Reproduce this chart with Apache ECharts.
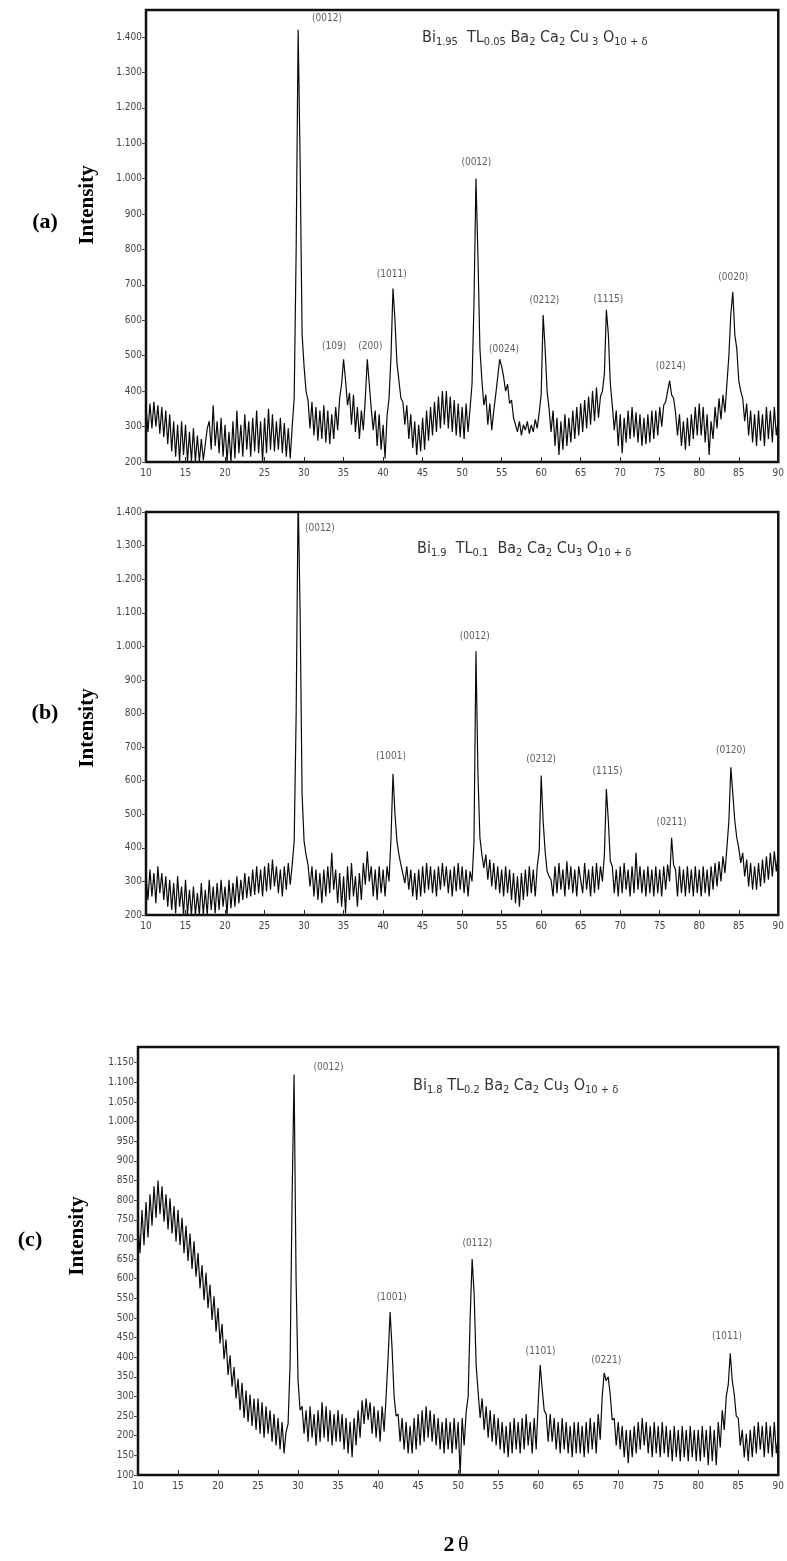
<!DOCTYPE html>
<html>
<head>
<meta charset="utf-8">
<script src="https://cdn.jsdelivr.net/npm/echarts@6/dist/echarts.min.js"></script>
<style>
  html, body { margin: 0; padding: 0; background: #fff; }
  #chart { width: 787px; height: 1561px; }
</style>
</head>
<body>
<div id="chart"></div>
<script>
// XRD scans: 2θ from 10° to 90° in 0.25° steps
const scanStart = 10;
const scanStep = 0.25;

// (a) Bi1.95 TL0.05 Ba2 Ca2 Cu3 O10+δ
const intensityA = [
  355,285,365,295,370,300,360,280,355,270,345,250,335,230,315,215,305,200,315,220,
  305,200,285,202,295,200,275,200,265,205,250,295,315,235,360,245,315,225,325,215,
  305,200,285,200,315,210,345,225,305,215,335,235,315,215,325,230,345,225,315,200,
  325,225,350,235,335,230,315,235,325,225,310,215,295,210,300,380,800,1420,1050,560,
  470,400,375,295,370,275,355,260,345,265,360,255,345,250,335,265,355,290,380,420,
  490,430,360,395,305,390,285,355,265,345,290,380,490,420,350,290,345,245,335,235,
  305,210,330,380,500,690,600,480,430,380,370,305,360,265,335,240,315,220,305,230,
  325,235,345,260,355,275,370,285,385,295,400,305,400,295,385,285,375,275,365,270,
  355,265,365,285,350,420,650,1000,780,520,430,360,390,305,365,290,345,390,440,490,
  470,440,400,420,365,375,325,325,285,315,275,305,290,315,280,305,285,320,295,340,
  390,615,520,400,350,285,345,245,325,220,315,235,335,245,325,255,345,265,355,275,
  365,285,375,295,385,305,400,315,410,325,385,400,450,630,560,420,360,290,345,245,
  335,225,325,255,345,265,355,270,340,255,335,245,325,250,335,255,345,265,345,275,
  355,300,360,370,400,430,390,380,340,275,335,245,315,235,325,245,335,265,355,275,
  365,275,355,255,335,220,315,265,355,295,380,320,390,340,420,500,620,680,560,520,
  430,400,380,315,365,275,345,255,335,245,345,260,335,245,355,265,345,255,355,275,
  320
];

// (b) Bi1.9 TL0.1 Ba2 Ca2 Cu3 O10+δ
const intensityB = [
  315,245,335,255,325,235,345,265,325,245,315,225,305,215,295,205,315,225,285,200,
  305,200,275,200,285,200,265,200,295,200,275,200,305,215,285,205,295,215,305,225,
  285,200,305,220,295,225,315,235,305,245,325,250,315,255,335,260,345,265,335,255,
  345,270,355,275,365,285,345,265,335,255,345,275,355,290,350,420,800,1450,1100,560,
  420,380,350,285,345,255,335,245,325,235,335,255,345,265,385,275,335,235,325,225,
  315,205,345,245,355,255,315,225,325,245,355,290,390,300,345,255,335,245,345,265,
  335,255,345,300,430,620,500,420,380,350,350,295,345,275,335,255,325,245,335,255,
  345,265,355,275,345,265,335,255,345,275,355,285,345,265,335,255,345,270,355,275,
  345,265,335,255,330,300,420,985,620,430,380,340,380,305,365,285,355,275,345,265,
  335,255,345,265,335,245,325,235,315,225,325,245,335,255,345,265,335,255,345,390,
  615,480,390,330,315,305,255,345,265,355,275,335,255,360,275,345,265,335,255,345,
  345,265,355,275,335,255,345,265,355,275,345,300,380,575,480,360,345,265,335,255,
  345,265,355,275,335,255,345,265,385,275,345,265,335,255,345,265,335,255,345,265,
  335,255,345,275,350,300,430,350,335,255,345,265,335,255,345,265,335,255,345,265,
  335,255,345,265,335,255,345,275,355,285,360,300,375,325,400,480,640,560,480,430,
  400,355,385,315,365,285,355,275,345,275,355,285,365,295,375,305,385,315,390,330,
  390
];

// (c) Bi1.8 TL0.2 Ba2 Ca2 Cu3 O10+δ
const intensityC = [
  735,665,775,685,795,705,815,735,835,755,850,765,835,745,815,725,805,715,785,695,
  775,685,755,665,735,645,715,625,695,605,665,575,635,545,615,525,585,495,555,465,
  525,435,485,395,445,355,405,325,375,295,345,265,335,245,315,235,305,225,295,215,
  295,205,285,195,275,205,265,185,255,175,245,165,235,155,210,230,380,800,1120,600,
  340,265,275,205,265,185,275,195,255,175,265,185,285,195,275,185,265,175,255,185,
  265,185,255,165,245,155,235,145,245,175,265,195,290,230,295,240,285,205,275,195,
  265,185,275,210,300,400,515,420,300,250,255,185,245,165,235,155,225,155,245,165,
  255,175,265,185,275,195,265,185,255,175,245,165,235,155,245,165,235,155,245,165,
  235,100,245,175,260,300,500,650,560,380,310,245,295,215,275,195,265,185,255,175,
  245,165,235,155,225,145,235,155,245,165,235,155,245,165,255,175,235,155,245,165,
  280,380,320,265,255,185,255,185,245,165,235,155,245,165,235,155,225,145,235,155,
  235,155,225,145,235,155,245,165,235,155,255,190,300,360,340,350,305,240,245,175,
  235,165,225,145,215,130,215,145,225,155,235,165,245,175,235,155,225,145,235,155,
  225,145,235,155,225,145,215,135,225,145,215,135,225,145,215,135,225,145,215,135,
  215,135,225,145,215,125,225,135,215,125,235,170,265,215,300,330,410,340,305,250,
  245,175,215,145,205,135,215,145,225,155,235,165,225,145,235,155,225,145,235,155,
  200
];

// Reflection labels: [hkl, 2θ, intensity at label centre]
const reflectionsA = [
  ['(0012)', 32.9, 1452], ['(109)', 33.8, 525], ['(200)', 38.4, 525],
  ['(1011)', 41.1, 730], ['(0012)', 51.8, 1045], ['(0024)', 55.3, 518],
  ['(0212)', 60.4, 655], ['(1115)', 68.5, 660], ['(0214)', 76.4, 470],
  ['(0020)', 84.3, 722]
];
const reflectionsB = [
  ['(0012)', 32.0, 1352], ['(0012)', 51.6, 1030], ['(1001)', 41.0, 672],
  ['(0212)', 60.0, 662], ['(1115)', 68.4, 628], ['(0211)', 76.5, 475],
  ['(0120)', 84.0, 690]
];
const reflectionsC = [
  ['(0012)', 33.8, 1138], ['(1001)', 41.7, 552], ['(0112)', 52.4, 690],
  ['(1101)', 60.3, 415], ['(0221)', 68.5, 392], ['(1011)', 83.6, 452]
];

// Axis ranges and tick steps per panel
const rangesY = [[200, 1476, 100], [200, 1400, 100], [100, 1190, 50]];
const rangeX = [10, 90, 5];

const compositions = [
  'Bi{s|1.95}  TL{s|0.05} Ba{s|2} Ca{s|2} Cu{s| 3} O{s|10 + δ}',
  'Bi{s|1.9}  TL{s|0.1}  Ba{s|2} Ca{s|2} Cu{s|3} O{s|10 + δ}',
  'Bi{s|1.8} TL{s|0.2} Ba{s|2} Ca{s|2} Cu{s|3} O{s|10 + δ}'
];
const panelTags = ['(a)', '(b)', '(c)'];

const toPairs = arr => arr.map((v, i) => [scanStart + i * scanStep, v]);
const fmtTick = v => v >= 1000
  ? Math.floor(v / 1000) + '.' + String(v % 1000).padStart(3, '0')
  : String(v);

const tickFont = 'DejaVu Sans Condensed, DejaVu Sans, sans-serif';
const serif = 'Liberation Serif, Times New Roman, serif';

const grids = [
  { left: 146, right: 6, top: 10, height: 452 },
  { left: 146, right: 6, top: 512, height: 403 },
  { left: 138, right: 6, top: 1047, height: 428 }
];

const chart = echarts.init(document.getElementById('chart'), null, { renderer: 'canvas' });

const option = {
  backgroundColor: '#fff',
  animation: false,
  grid: grids.map(g => Object.assign({ show: true, borderColor: '#111', borderWidth: 2.5, backgroundColor: 'transparent' }, g)),
  xAxis: grids.map((g, i) => ({
    gridIndex: i, type: 'value', min: rangeX[0], max: rangeX[1], interval: rangeX[2],
    axisLine: { show: true, onZero: false, lineStyle: { color: '#111', width: 2 } },
    axisTick: { show: true, inside: true, length: 5, lineStyle: { color: '#222' } },
    axisLabel: { fontFamily: tickFont, fontSize: 10, color: '#444', margin: 6 },
    splitLine: { show: false }
  })),
  yAxis: grids.map((g, i) => ({
    gridIndex: i, type: 'value', min: rangesY[i][0], max: rangesY[i][1], interval: rangesY[i][2],
    axisLine: { show: true, onZero: false, lineStyle: { color: '#111', width: 2 } },
    axisTick: { show: true, inside: false, length: 4, lineStyle: { color: '#444' } },
    axisLabel: { fontFamily: tickFont, fontSize: 10, color: '#444', margin: 4,
                 showMaxLabel: i === 1, formatter: fmtTick },
    splitLine: { show: false }
  })),
  series: [],
  graphic: []
};

[intensityA, intensityB, intensityC].forEach((arr, i) => {
  option.series.push({
    type: 'line', xAxisIndex: i, yAxisIndex: i, data: toPairs(arr),
    showSymbol: false, symbol: 'none', clip: true, silent: true,
    lineStyle: { color: '#0a0a0a', width: 1.2 }
  });
});

[reflectionsA, reflectionsB, reflectionsC].forEach((refl, i) => {
  option.series.push({
    type: 'scatter', xAxisIndex: i, yAxisIndex: i, silent: true,
    symbolSize: 1, itemStyle: { color: 'rgba(0,0,0,0)' },
    data: refl.map(r => ({ name: r[0], value: [r[1], r[2]] })),
    label: { show: true, position: 'inside', formatter: '{b}',
             fontFamily: tickFont, fontSize: 10, color: '#333' }
  });
});

// Composition headers, panel tags, axis names
const titlePos = [[422, 42], [417, 553], [413, 1090]];
const tagPos = [[45, 222], [45, 713], [30, 1240]];
const namePos = [[88, 205], [88, 728], [78, 1236]];

compositions.forEach((t, i) => {
  option.graphic.push({
    type: 'text', left: titlePos[i][0], top: titlePos[i][1] - 12,
    style: {
      text: t, fill: '#333', font: '16px ' + tickFont,
      rich: { s: { fontSize: 11, fontFamily: tickFont, fill: '#333', padding: [9, 0, 0, 0] } }
    }
  });
  option.graphic.push({
    type: 'text', x: tagPos[i][0], y: tagPos[i][1],
    style: { text: panelTags[i], fill: '#000', font: 'bold 22px ' + serif,
             textAlign: 'center', textVerticalAlign: 'middle' }
  });
  option.graphic.push({
    type: 'text', x: namePos[i][0], y: namePos[i][1], rotation: Math.PI / 2,
    style: { text: 'Intensity', fill: '#000', font: 'bold 21px ' + serif,
             textAlign: 'center', textVerticalAlign: 'middle' }
  });
});

option.graphic.push({
  type: 'text', x: 456, y: 1545,
  style: { text: '{b|2} {t|θ}', textAlign: 'center', textVerticalAlign: 'middle',
           rich: { b: { font: 'bold 22px ' + serif, fill: '#000' },
                   t: { font: '22px ' + serif, fill: '#000' } } }
});

chart.setOption(option);
</script>
</body>
</html>
